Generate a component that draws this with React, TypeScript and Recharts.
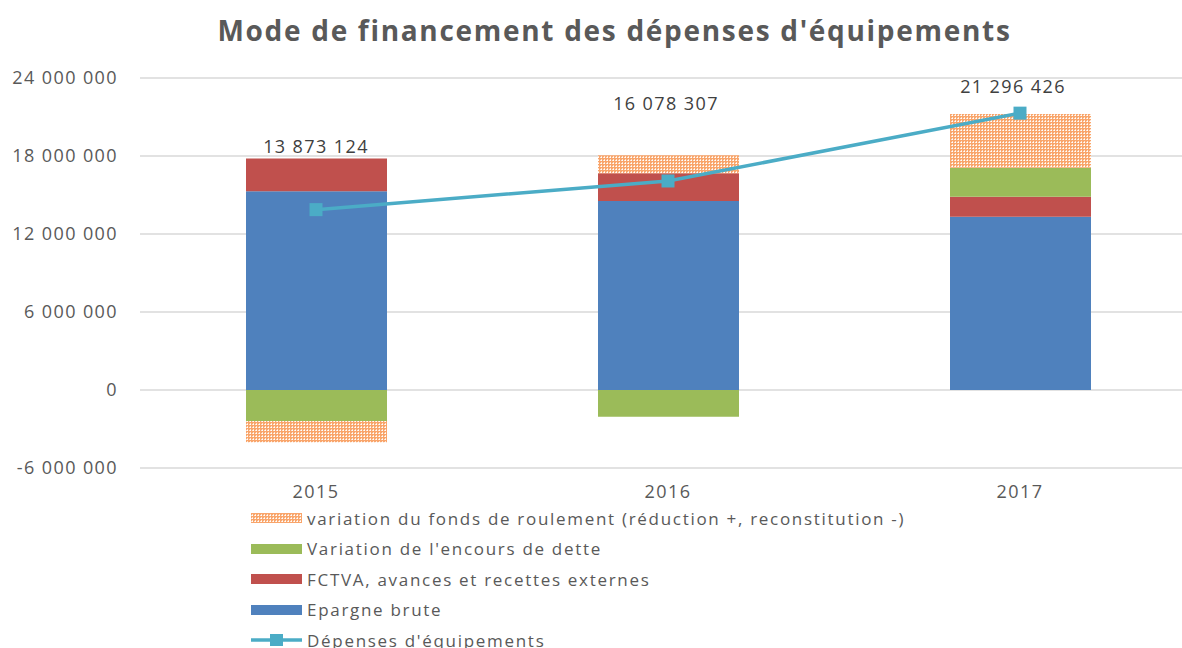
import React from 'react';
import { ComposedChart, Bar, Line, XAxis, YAxis, CartesianGrid, Legend, LabelList } from 'recharts';

const years = ['2015', '2016', '2017'];
const epargneBrute = [15280000, 14540000, 13330000];
const fctva = [2520000, 2130000, 1540000];
const encoursDette = [-2380000, -2050000, 2230000];
const fondsRoulement = [-1640000, 1380000, 4130000];
const depensesEquipements = [13873124, 16078307, 21296426];
const yTicks = [-6000000, 0, 6000000, 12000000, 18000000, 24000000];

const data = years.map((y, i) => ({
  year: y,
  epargne: epargneBrute[i],
  fctva: fctva[i],
  encours: encoursDette[i],
  fonds: fondsRoulement[i],
  depenses: depensesEquipements[i],
}));

const BLUE = '#4F81BD';
const RED = '#C0504D';
const GREEN = '#9BBB59';
const ORANGE = '#F79646';
const LINE = '#4BACC6';
const TEXT = '#595959';
const FONT = "'Open Sans', sans-serif";

const labelShift = [
  { dx: 0, dy: -64 },
  { dx: -2, dy: -78 },
  { dx: -7, dy: -27 },
];

const fmt = (v: number) => String(v).replace(/\B(?=(\d{3})+(?!\d))/g, ' ');

const SquareDot = (props: any) => {
  const { cx, cy } = props;
  if (cx == null || cy == null) return null;
  return <rect x={cx - 6.5} y={cy - 6.5} width={13} height={13} fill={LINE} />;
};

const ValueLabel = (props: any) => {
  const { x, y, value, index } = props;
  const s = labelShift[index] || { dx: 0, dy: -20 };
  return (
    <text
      x={x + s.dx}
      y={y + s.dy}
      textAnchor="middle"
      dominantBaseline="central"
      fill="#404040"
      fontSize={18}
      letterSpacing={1.4}
      fontFamily={FONT}
    >
      {fmt(value)}
    </text>
  );
};

const legendItems = [
  { name: 'variation du fonds de roulement (réduction +, reconstitution -)', kind: 'pattern', color: ORANGE },
  { name: "Variation de l'encours de dette", kind: 'rect', color: GREEN },
  { name: 'FCTVA, avances et recettes externes', kind: 'rect', color: RED },
  { name: 'Epargne brute', kind: 'rect', color: BLUE },
  { name: "Dépenses d'équipements", kind: 'line', color: LINE },
];

const LegendContent = () => (
  <div style={{ fontFamily: FONT }}>
    {legendItems.map((it) => (
      <div key={it.name} style={{ display: 'flex', alignItems: 'center', height: 30.5 }}>
        <svg width={51} height={14} style={{ marginRight: 5 }}>
          {it.kind === 'rect' && <rect x={0} y={2} width={51} height={10} fill={it.color} />}
          {it.kind === 'pattern' && <rect x={0} y={2} width={51} height={10} fill="url(#dotsPattern)" />}
          {it.kind === 'line' && (
            <g>
              <line x1={0} y1={7} x2={51} y2={7} stroke={it.color} strokeWidth={3.5} />
              <rect x={19} y={1} width={13} height={12} fill={it.color} />
            </g>
          )}
        </svg>
        <span style={{ fontSize: 17, color: TEXT, letterSpacing: 1.7, whiteSpace: 'nowrap' }}>{it.name}</span>
      </div>
    ))}
  </div>
);

export default function App() {
  return (
    <div
      style={{
        position: 'absolute',
        left: 0,
        top: 0,
        width: 1182,
        height: 648,
        overflow: 'hidden',
        background: '#fff',
        fontFamily: FONT,
      }}
    >
      <svg width={0} height={0} style={{ position: 'absolute' }}>
        <defs>
          <pattern id="dotsPattern" width={3} height={3} patternUnits="userSpaceOnUse">
            <rect x={0} y={0} width={3} height={3} fill="#F9A56B" />
            <rect x={1} y={1} width={1} height={1} fill="#ffffff" />
            <rect x={0} y={1} width={1} height={1} fill="#FDE3CF" />
            <rect x={1} y={0} width={1} height={1} fill="#FDE3CF" />
          </pattern>
        </defs>
      </svg>
      <div
        style={{
          position: 'absolute',
          left: 0,
          top: 10,
          width: 1229,
          textAlign: 'center',
          fontSize: 28,
          fontWeight: 700,
          color: TEXT,
          lineHeight: '40px',
          letterSpacing: 1.7,
          whiteSpace: 'nowrap',
        }}
      >
        Mode de financement des dépenses d'équipements
      </div>
      <ComposedChart
        width={1200}
        height={700}
        data={data}
        stackOffset="sign"
        margin={{ top: 78, right: 4, bottom: 202, left: 0 }}
      >
        <CartesianGrid vertical={false} stroke="#D9D9D9" strokeWidth={1.3} />
        <XAxis
          dataKey="year"
          axisLine={false}
          tickLine={false}
          tickMargin={11}
          height={30}
          tick={{ fill: TEXT, fontSize: 18, letterSpacing: 1.4, fontFamily: FONT }}
        />
        <YAxis
          width={140}
          domain={[-6000000, 24000000]}
          ticks={yTicks}
          interval={0}
          tickFormatter={fmt}
          axisLine={false}
          tickLine={false}
          tickMargin={16}
          tick={{ fill: TEXT, fontSize: 18, letterSpacing: 1.4, fontFamily: FONT }}
        />
        <Legend
          layout="vertical"
          align="center"
          verticalAlign="middle"
          content={<LegendContent />}
          wrapperStyle={{ top: 503, left: 251, width: 'auto', height: 'auto' }}
        />
        <Bar dataKey="epargne" name="Epargne brute" stackId="a" fill={BLUE} barSize={141} isAnimationActive={false} />
        <Bar dataKey="fctva" name="FCTVA, avances et recettes externes" stackId="a" fill={RED} barSize={141} isAnimationActive={false} />
        <Bar dataKey="encours" name="Variation de l'encours de dette" stackId="a" fill={GREEN} barSize={141} isAnimationActive={false} />
        <Bar dataKey="fonds" name="variation du fonds de roulement (réduction +, reconstitution -)" stackId="a" fill="url(#dotsPattern)" barSize={141} isAnimationActive={false} />
        <Line
          dataKey="depenses"
          name="Dépenses d'équipements"
          type="linear"
          stroke={LINE}
          strokeWidth={3.5}
          dot={<SquareDot />}
          activeDot={false}
          isAnimationActive={false}
        >
          <LabelList dataKey="depenses" content={<ValueLabel />} />
        </Line>
      </ComposedChart>
    </div>
  );
}
